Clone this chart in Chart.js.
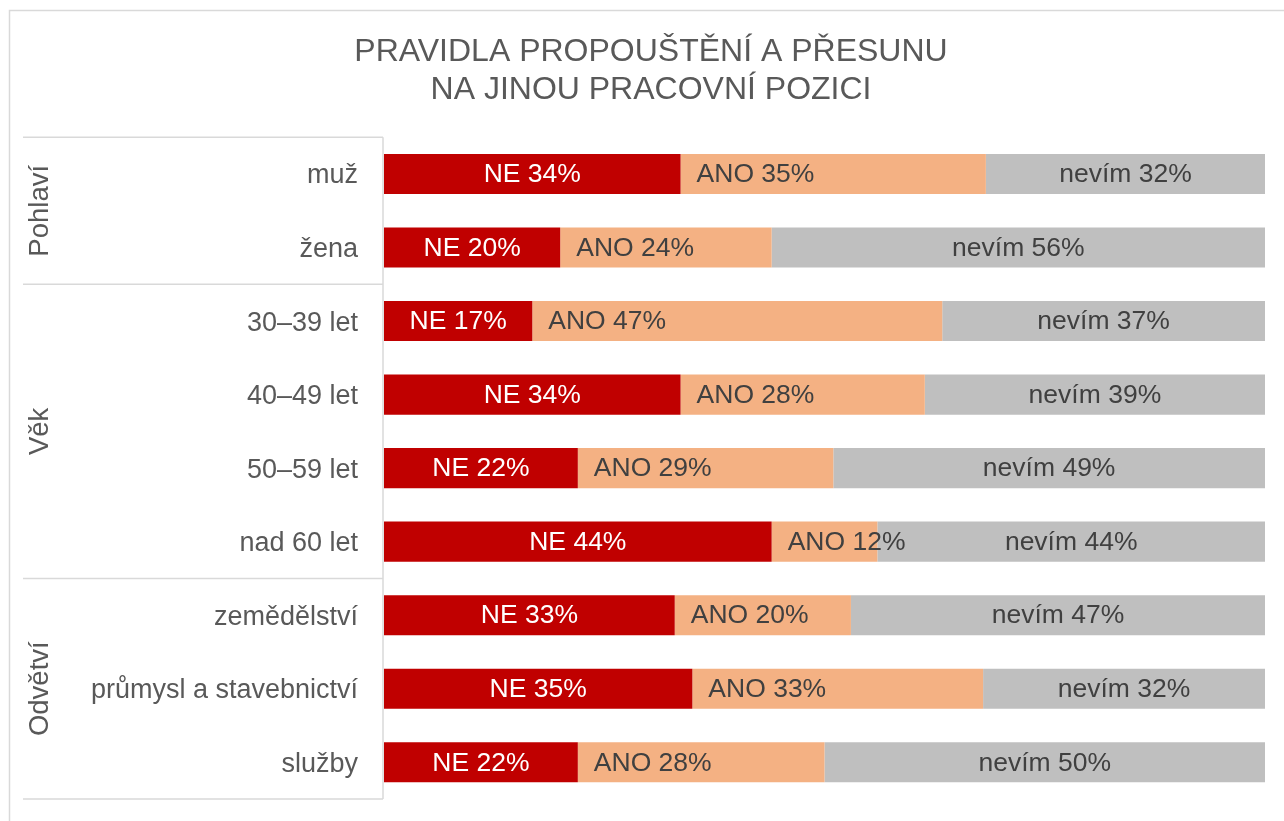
<!DOCTYPE html>
<html>
<head>
<meta charset="utf-8">
<script src="https://cdn.jsdelivr.net/npm/chart.js@4"></script>
<style>
body{margin:0;background:#fff}
#wrap{width:1284px;height:821px}
</style>
</head>
<body>
<div id="wrap"><canvas id="chart" width="1284" height="821"></canvas></div>
<script>
const categories=["muž","žena","30–39 let","40–49 let","50–59 let","nad 60 let","zemědělství","průmysl a stavebnictví","služby"]
const groups=[
{name:"Pohlaví",from:0,to:1},
{name:"Věk",from:2,to:5},
{name:"Odvětví",from:6,to:8}
]
const neValues=[34,20,17,34,22,44,33,35,22]
const anoValues=[35,24,47,28,29,12,20,33,28]
const nevimValues=[32,56,37,39,49,44,47,32,50]

const font="'Liberation Sans', Arial, sans-serif"
const gray="#595959"

let totals=categories.map((c,i)=>neValues[i]+anoValues[i]+nevimValues[i])
let share=arr=>arr.map((v,i)=>v/totals[i]*100)

const panelPlugin={
id:"panel",
beforeDraw(chart){
let ctx=chart.ctx
let area=chart.chartArea
let y=chart.scales.y
ctx.save()
ctx.strokeStyle="#d9d9d9"
ctx.lineWidth=1.5
// outer frame
ctx.beginPath()
ctx.moveTo(9.5,chart.height+5)
ctx.lineTo(9.5,10.5)
ctx.lineTo(chart.width+5,10.5)
ctx.stroke()
// group panel
let lines=[area.top]
groups.forEach(g=>{
if(g.to<categories.length-1){
lines.push((y.getPixelForValue(g.to)+y.getPixelForValue(g.to+1))/2)
}
})
lines.push(area.bottom)
ctx.beginPath()
lines.forEach(ly=>{
ctx.moveTo(23,ly)
ctx.lineTo(area.left-1,ly)
})
ctx.moveTo(area.left-1,area.top)
ctx.lineTo(area.left-1,area.bottom)
ctx.stroke()
ctx.fillStyle=gray
ctx.font="27.5px "+font
ctx.textAlign="center"
ctx.textBaseline="middle"
groups.forEach((g,k)=>{
let top=lines[k]
let bottom=lines[k+1]
ctx.save()
ctx.translate(40,(top+bottom)/2)
ctx.rotate(-Math.PI/2)
ctx.fillText(g.name,0,0)
ctx.restore()
})
ctx.restore()
}
}

const labelPlugin={
id:"barLabels",
afterDatasetsDraw(chart){
let ctx=chart.ctx
ctx.save()
ctx.font="26.5px "+font
ctx.textBaseline="middle"
chart.data.datasets.forEach((ds,d)=>{
let meta=chart.getDatasetMeta(d)
meta.data.forEach((bar,i)=>{
let p=bar.getProps(["x","y","base"],true)
let text=ds.label+" "+ds.raw[i]+"%"
ctx.fillStyle=d==0?"#ffffff":"#404040"
if(d==1){
ctx.textAlign="left"
ctx.fillText(text,p.base+16,p.y+1)
}else{
ctx.textAlign="center"
ctx.fillText(text,(p.base+p.x)/2,p.y+1)
}
})
})
ctx.restore()
}
}

new Chart(document.getElementById("chart"),{
type:"bar",
data:{
labels:categories,
datasets:[
{label:"NE",raw:neValues,data:share(neValues),backgroundColor:"#c00000"},
{label:"ANO",raw:anoValues,data:share(anoValues),backgroundColor:"#f4b183"},
{label:"nevím",raw:nevimValues,data:share(nevimValues),backgroundColor:"#bfbfbf"}
]
},
options:{
indexAxis:"y",
responsive:false,
animation:false,
categoryPercentage:1,
barPercentage:0.545,
layout:{padding:{top:12,left:37,right:19,bottom:22}},
plugins:{
legend:{display:false},
tooltip:{enabled:false},
title:{
display:true,
text:["PRAVIDLA PROPOUŠTĚNÍ A PŘESUNU","NA JINOU PRACOVNÍ POZICI"],
color:gray,
font:{family:font,size:32,weight:"normal",lineHeight:1.16},
padding:{top:22,bottom:29}
}
},
scales:{
x:{stacked:true,min:0,max:100,display:false},
y:{
stacked:true,
grid:{display:false,drawTicks:false},
border:{display:false},
ticks:{color:gray,font:{family:font,size:27},padding:26,labelOffset:2},
afterFit(scale){
scale.width=347
scale.paddingTop=0
scale.paddingBottom=0
}
}
}
},
plugins:[panelPlugin,labelPlugin]
})
</script>
</body>
</html>
